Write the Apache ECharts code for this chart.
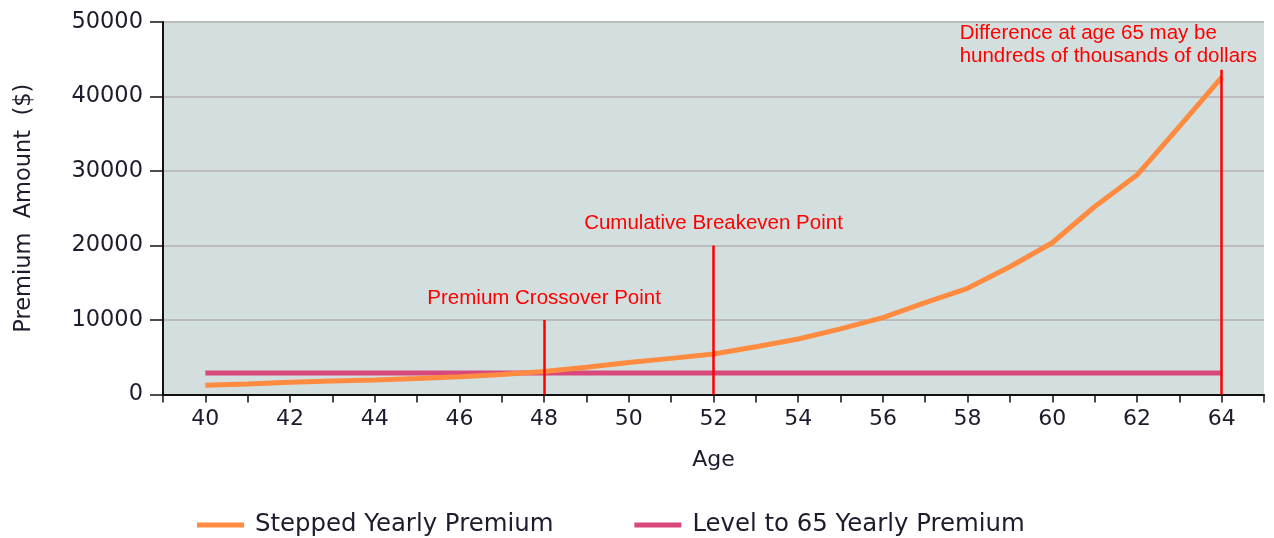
<!DOCTYPE html>
<html><head><meta charset="utf-8">
<script src="https://cdn.jsdelivr.net/npm/echarts@6/dist/echarts.min.js"></script>
<style>html,body{margin:0;padding:0;background:#fff}#c{width:1274px;height:538px}</style>
</head><body><div id="c"></div>
<script>
const ages = [40,41,42,43,44,45,46,47,48,49,50,51,52,53,54,55,56,57,58,59,60,61,62,63,64];
const steppedPremium = [1230,1400,1640,1800,1950,2150,2390,2700,3100,3650,4300,4850,5440,6420,7450,8800,10310,12320,14250,17150,20370,25200,29460,35950,42580];
const levelPremium = [2900,2900,2900,2900,2900,2900,2900,2900,2900,2900,2900,2900,2900,2900,2900,2900,2900,2900,2900,2900,2900,2900,2900,2900,2900];
const xTickLabels = [40,42,44,46,48,50,52,54,56,58,60,62,64];
const yTicks = [0,10000,20000,30000,40000,50000];
const annotAges = [48, 52, 64];
const annotTops = [10000, 20000, 43600];
const annotTexts = ['Premium Crossover Point', 'Cumulative Breakeven Point', 'Difference at age 65 may be\nhundreds of thousands of dollars'];

const axisFont = 'DejaVu Sans, Verdana, sans-serif';
const textColor = '#1c1c2c';
const chart = echarts.init(document.getElementById('c'), null, {renderer:'canvas'});

const markLineData = annotAges.map((a, i) => [{coord:[a, 0]}, {coord:[a, annotTops[i]]}]);
const markPointData = annotAges.map((a, i) => {
  const last = i === annotAges.length - 1;
  return {
    coord: [a, annotTops[i]],
    label: last ? {align:'left', offset:[-262, 2], distance:3, lineHeight:23} : {distance:11}
  };
});

chart.setOption({
  animation: false,
  grid: {left:163, right:10, top:22, bottom:143.5, show:true, backgroundColor:'#d3dfdf', borderWidth:0},
  xAxis: {
    type:'value', min:39, max:65, interval:1,
    name:'Age', nameLocation:'middle', nameGap:55,
    nameTextStyle:{fontFamily:axisFont, fontSize:22, color:textColor},
    axisLine:{lineStyle:{color:'#111', width:2}},
    axisTick:{length:8, lineStyle:{color:'#111', width:1.5}},
    axisLabel:{
      margin:14, fontFamily:axisFont, fontSize:22, color:textColor,
      formatter: v => xTickLabels.includes(v) ? String(v) : ''
    },
    splitLine:{show:false}
  },
  yAxis: {
    type:'value', min:yTicks[0], max:yTicks[yTicks.length-1], interval:10000,
    name:'Premium  Amount  ($)', nameLocation:'middle', nameGap:127,
    nameTextStyle:{fontFamily:axisFont, fontSize:22.5, color:textColor},
    axisLine:{show:true, lineStyle:{color:'#111', width:2}},
    axisTick:{show:true, length:13, lineStyle:{color:'#111', width:1.5}},
    axisLabel:{margin:20, fontFamily:axisFont, fontSize:22.5, color:textColor, formatter: v => String(v)},
    splitLine:{show:true, lineStyle:{color:'#bcbcbc', width:2}}
  },
  legend: {
    left:192, top:508, icon:'rect', itemWidth:47, itemHeight:5, itemGap:81,
    textStyle:{fontFamily:axisFont, fontSize:24.4, color:textColor, padding:[0,0,0,6]},
    data:['Stepped Yearly Premium','Level to 65 Yearly Premium']
  },
  series: [
    {
      name:'Level to 65 Yearly Premium', type:'line',
      data: ages.map((a,i)=>[a, levelPremium[i]]),
      showSymbol:false, color:'#d8487c',
      lineStyle:{width:5, color:'#d8487c'}, z:2
    },
    {
      name:'Stepped Yearly Premium', type:'line',
      data: ages.map((a,i)=>[a, steppedPremium[i]]),
      showSymbol:false, color:'#fe8b3f',
      lineStyle:{width:5, color:'#fe8b3f'}, z:3
    },
    {
      name:'annotations', type:'line', data:[], z:5,
      markLine:{
        silent:true, symbol:['none','none'],
        lineStyle:{color:'#ff0000', width:2.5, type:'solid'},
        label:{show:false},
        data: markLineData
      },
      markPoint:{
        silent:true, symbol:'circle', symbolSize:1,
        itemStyle:{color:'rgba(0,0,0,0)'},
        label:{show:true, position:'top', color:'#ff0000', fontFamily:'Liberation Sans, Arial, sans-serif', fontSize:20.5,
          formatter: p => annotTexts[p.dataIndex]},
        data: markPointData
      }
    }
  ]
});
</script>
</body></html>
